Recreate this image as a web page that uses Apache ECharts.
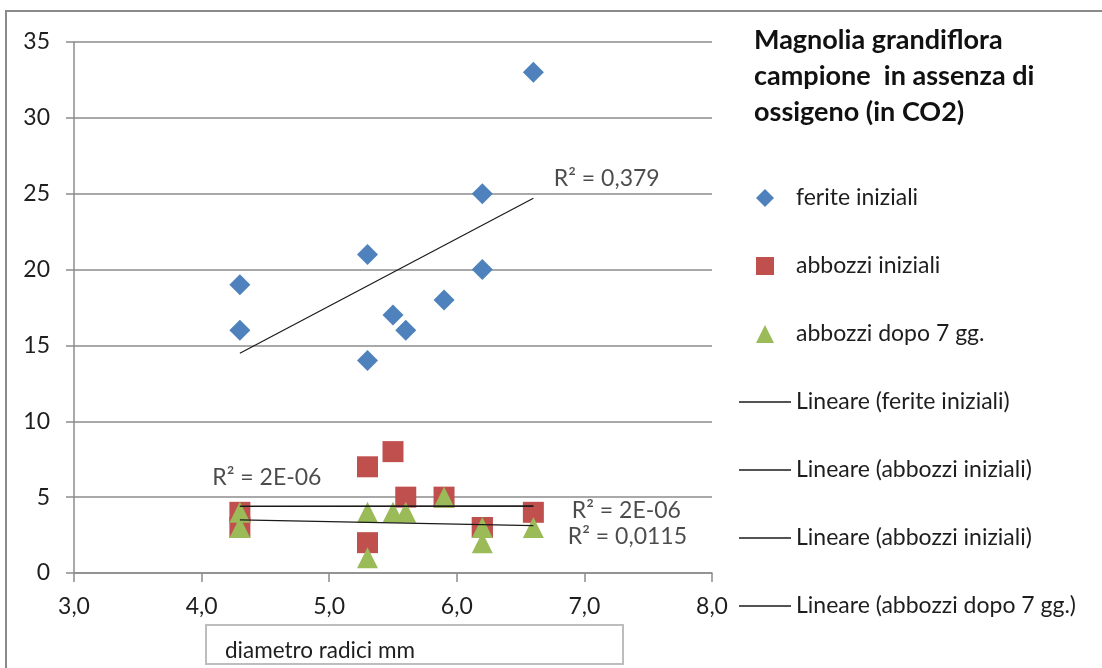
<!DOCTYPE html>
<html>
<head>
<meta charset="utf-8">
<script src="https://cdn.jsdelivr.net/npm/echarts@6/dist/echarts.min.js"></script>
<style>
  html, body { margin: 0; padding: 0; background: #fff; }
  #chart { width: 1102px; height: 668px; }
</style>
</head>
<body>
<div id="chart"></div>
<script>
// Root diameter (mm) shared by every series
const diametro = [4.3, 4.3, 5.3, 5.3, 5.5, 5.6, 5.9, 6.2, 6.2, 6.6];
// Counts per sample
const feriteIniziali = [19, 16, 21, 14, 17, 16, 18, 25, 20, 33];
const abbozziIniziali = [4, 3, 7, 2, 8, 5, 5, 3, 3, 4];
const abbozziDopo7 = [4, 3, 4, 1, 4, 4, 5, 3, 2, 3];

const seriesNames = ['ferite iniziali', 'abbozzi iniziali', 'abbozzi dopo 7 gg.'];
const trendNames = [
  'Lineare (ferite iniziali)',
  'Lineare (abbozzi iniziali)',
  'Lineare (abbozzi iniziali) #2',
  'Lineare (abbozzi dopo 7 gg.)'
];
const r2Labels = ['R² = 0,379', 'R² = 2E-06', 'R² = 2E-06', 'R² = 0,0115'];

const chartTitle = 'Magnolia grandiflora\ncampione  in assenza di\nossigeno (in CO2)';
const xAxisTitle = 'diametro radici mm';

const FONT = 'Lato';
const TEXT = '#1e1e1e';

// Legend glyphs as paths so they keep a square aspect inside the wide icon box
const ICON_DIAMOND = 'path://M0,-1L1,0L0,1L-1,0Z';
const ICON_SQUARE = 'path://M0,0H1V1H0Z';
const ICON_TRIANGLE = 'path://M0,-1L1,1H-1Z';
const ICON_LINE = 'path://M0,0H52V1.6H0Z';

// Least-squares line evaluated at the smallest and largest diameter
function trendline(xs, ys) {
  const n = xs.length;
  const mx = xs.reduce((a, b) => a + b, 0) / n;
  const my = ys.reduce((a, b) => a + b, 0) / n;
  let sxy = 0, sxx = 0;
  for (let i = 0; i < n; i++) {
    sxy += (xs[i] - mx) * (ys[i] - my);
    sxx += (xs[i] - mx) * (xs[i] - mx);
  }
  const slope = sxy / sxx;
  const x0 = Math.min(...xs), x1 = Math.max(...xs);
  return [[x0, my + slope * (x0 - mx)], [x1, my + slope * (x1 - mx)]];
}

const pairs = ys => diametro.map((x, i) => [x, ys[i]]);

const trendFerite = trendline(diametro, feriteIniziali);
const trendAbbozzi = trendline(diametro, abbozziIniziali);
const trendDopo = trendline(diametro, abbozziDopo7);

function scatter(name, ys, symbol, color, z) {
  return {
    name, type: 'scatter', data: pairs(ys),
    symbol, symbolSize: 21, z,
    itemStyle: { color, opacity: 1 },
    emphasis: { disabled: true }
  };
}

function trend(name, pts) {
  return {
    name, type: 'line', data: pts,
    symbol: 'none', z: 10, silent: true,
    lineStyle: { color: '#1a1a1a', width: 1.2 },
    itemStyle: { color: '#1a1a1a' }
  };
}

// R² annotation anchored to a trend line point
function r2Label(text, pt, position, offset) {
  return {
    type: 'scatter', silent: true, z: 11,
    data: [{ value: pt }],
    symbol: 'rect', symbolSize: 1,
    itemStyle: { color: 'rgba(0,0,0,0)' },
    label: {
      show: true, formatter: text, position, offset, distance: 0,
      fontFamily: FONT, fontSize: 23, color: TEXT
    }
  };
}

const chart = echarts.init(document.getElementById('chart'), null, { renderer: 'canvas' });

chart.setOption({
  animation: false,
  backgroundColor: '#ffffff',
  title: {
    text: chartTitle,
    left: 754, top: 22, padding: 0,
    textStyle: { fontFamily: FONT, fontWeight: 'bold', fontSize: 27, lineHeight: 36, color: '#111' }
  },
  grid: { left: 74, right: 390, top: 42, bottom: 95, containLabel: false },
  xAxis: {
    type: 'value', min: 3, max: 8, interval: 1,
    axisLine: { show: true, onZero: false, lineStyle: { color: '#8c8c8c', width: 1.5 } },
    axisTick: { show: true, length: 9, lineStyle: { color: '#8c8c8c', width: 1.5 } },
    axisLabel: {
      margin: 22, fontFamily: FONT, fontSize: 23, color: TEXT,
      formatter: v => v.toFixed(1).replace('.', ',')
    },
    splitLine: { show: false }
  },
  yAxis: {
    type: 'value', min: 0, max: 35, interval: 5,
    axisLine: { show: true, lineStyle: { color: '#8c8c8c', width: 1.5 } },
    axisTick: { show: true, length: 8, lineStyle: { color: '#8c8c8c', width: 1.5 } },
    axisLabel: { margin: 24, fontFamily: FONT, fontSize: 23, color: TEXT },
    splitLine: { show: true, lineStyle: { color: '#8c8c8c', width: 1.5 } }
  },
  legend: {
    orient: 'vertical',
    left: 739, top: 186, padding: 0,
    itemWidth: 52, itemHeight: 18, itemGap: 44,
    symbolKeepAspect: true,
    selectedMode: false,
    data: [
      { name: seriesNames[0], icon: ICON_DIAMOND },
      { name: seriesNames[1], icon: ICON_SQUARE },
      { name: seriesNames[2], icon: ICON_TRIANGLE }
    ].concat(trendNames.map(name => ({ name, icon: ICON_LINE }))),
    formatter: name => name.replace(/ #\d$/, ''),
    textStyle: { fontFamily: FONT, fontSize: 23, lineHeight: 24, color: TEXT }
  },
  graphic: [
    {
      type: 'rect', silent: true, z: -1,
      shape: { x: 6, y: 11, width: 1200, height: 800 },
      style: { fill: 'none', stroke: '#8a8a8a', lineWidth: 2 }
    },
    {
      type: 'rect', silent: true,
      shape: { x: 206, y: 625, width: 417, height: 39 },
      style: { fill: '#fff', stroke: '#bdbdbd', lineWidth: 2 }
    },
    {
      type: 'text', silent: true,
      x: 225, y: 651,
      style: {
        text: xAxisTitle, fontFamily: FONT, fontSize: 22.5,
        fill: TEXT, verticalAlign: 'middle', align: 'left'
      }
    }
  ],
  series: [
    scatter(seriesNames[1], abbozziIniziali, 'rect', '#C0504D', 2),
    scatter(seriesNames[2], abbozziDopo7, 'triangle', '#9BBB59', 3),
    scatter(seriesNames[0], feriteIniziali, 'diamond', '#4F81BD', 4),
    trend(trendNames[0], trendFerite),
    trend(trendNames[1], trendAbbozzi),
    trend(trendNames[2], trendAbbozzi),
    trend(trendNames[3], trendDopo),
    r2Label(r2Labels[0], trendFerite[1], 'right', [20, -20]),
    r2Label(r2Labels[1], trendAbbozzi[0], 'inside', [27, -29]),
    r2Label(r2Labels[2], trendAbbozzi[1], 'right', [38, 4]),
    r2Label(r2Labels[3], trendDopo[1], 'right', [34, 11])
  ]
});
</script>
</body>
</html>
